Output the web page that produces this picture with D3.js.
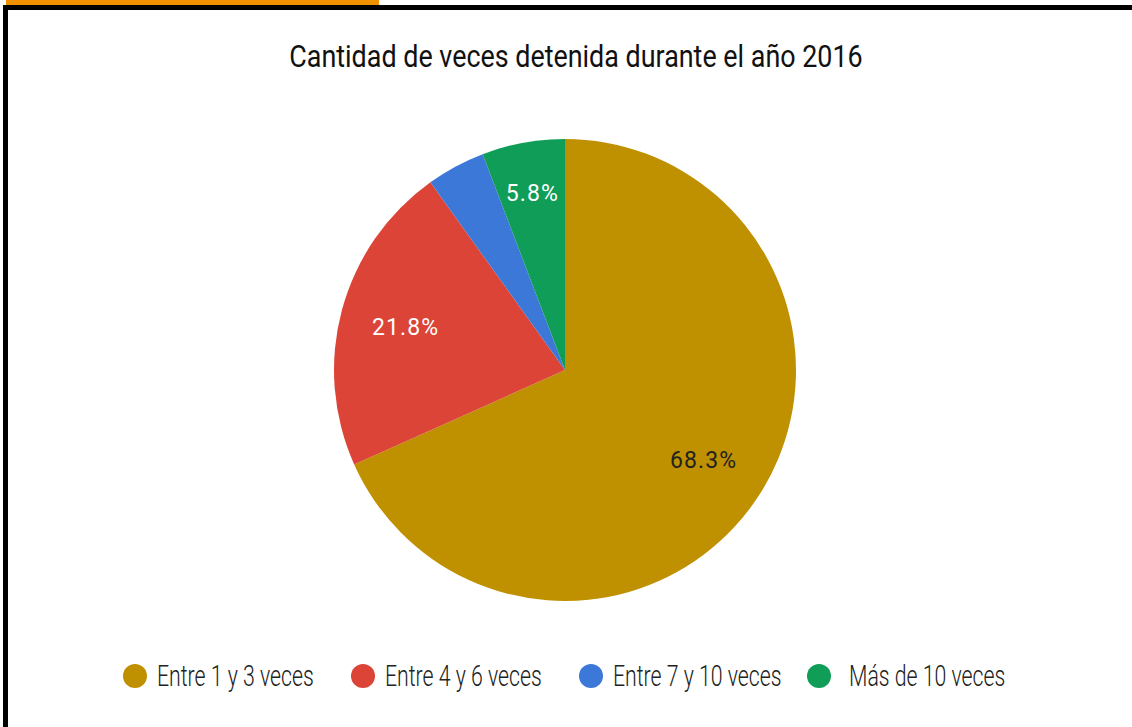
<!DOCTYPE html>
<html>
<head>
<meta charset="utf-8">
<script src="https://cdn.jsdelivr.net/npm/d3@7"></script>
<style>
  body { margin: 0; background: #fff; }
  svg { display: block; }
  .title { font-family: Roboto, sans-serif; font-weight: 400; font-size: 32px; fill: #111; }
  .legend text { font-family: Roboto, sans-serif; font-weight: 300; font-size: 29px; fill: #222; }
  .slice-label { font-family: Roboto, sans-serif; font-size: 23px; letter-spacing: 1.1px; }
</style>
</head>
<body>
<svg id="chart" width="1132" height="727"></svg>
<script>
const categories = ["Entre 1 y 3 veces", "Entre 4 y 6 veces", "Entre 7 y 10 veces", "Más de 10 veces"];
const values = [68.3, 21.8, 4.1, 5.8];
const colors = ["#bf9000", "#db4437", "#3c78d8", "#0f9d58"];
const labelColors = ["#222222", "#ffffff", "#ffffff", "#ffffff"];

const svg = d3.select("#chart"),
    width = +svg.attr("width"),
    height = +svg.attr("height");

// frame: orange tab + black border
svg.append("rect").attr("x", 6).attr("y", 0).attr("width", 373).attr("height", 5).attr("fill", "#f29100");
svg.append("rect").attr("x", 3).attr("y", 5).attr("width", width).attr("height", 5).attr("fill", "#000");
svg.append("rect").attr("x", 3).attr("y", 5).attr("width", 5).attr("height", height).attr("fill", "#000");

// condensed look: squeeze text to the widths seen in the original
function condense(sel, k) {
    sel.each(function () {
        const t = d3.select(this);
        t.attr("textLength", this.getComputedTextLength() * k).attr("lengthAdjust", "spacingAndGlyphs");
    });
}

svg.append("text")
    .attr("class", "title")
    .attr("x", 576)
    .attr("y", 67)
    .attr("text-anchor", "middle")
    .text("Cantidad de veces detenida durante el año 2016")
    .call(condense, 0.84);

const cx = 565, cy = 370, r = 231;
const data = categories.map((c, i) => ({ name: c, value: values[i], color: colors[i], lc: labelColors[i] }));

const pie = d3.pie().value(d => d.value).sort(null);
const arc = d3.arc().innerRadius(0).outerRadius(r);
const arcs = pie(data);

const g = svg.append("g").attr("transform", `translate(${cx},${cy})`);

g.selectAll("path")
    .data(arcs)
    .enter().append("path")
    .attr("d", arc)
    .attr("fill", d => d.data.color);

g.selectAll("text")
    .data(arcs.filter(d => d.data.value >= 5))
    .enter().append("text")
    .attr("class", "slice-label")
    .attr("transform", d => {
        const lr = d.data.value < 10 ? r * 0.78 : r * 0.715;
        const a = (d.startAngle + d.endAngle) / 2;
        return `translate(${lr * Math.sin(a)},${-lr * Math.cos(a)})`;
    })
    .attr("dy", "0.35em")
    .attr("text-anchor", "middle")
    .attr("fill", d => d.data.lc)
    .text(d => d.data.value.toFixed(1) + "%");

// legend
const legendX = d3.scalePoint().domain(categories).range([135, 819]);
const leg = svg.append("g").attr("class", "legend")
    .selectAll("g")
    .data(data)
    .enter().append("g")
    .attr("transform", d => `translate(${legendX(d.name)},676)`);

leg.append("circle").attr("r", 12).attr("fill", d => d.color);
leg.append("text")
    .attr("x", (d, i) => i === 3 ? 30 : 22)
    .attr("dy", "0.36em")
    .text(d => d.name)
    .call(condense, 0.733);
</script>
</body>
</html>
